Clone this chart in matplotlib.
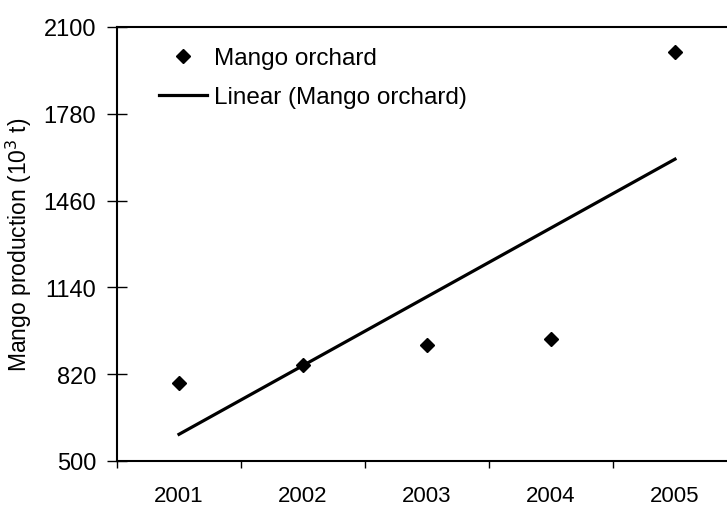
import numpy as np
import matplotlib
matplotlib.use("Agg")
import matplotlib.pyplot as plt

plt.rcParams['font.family'] = ['Liberation Sans', 'DejaVu Sans']

years = ["2001", "2002", "2003", "2004", "2005"]
production = [788, 854, 928, 950, 2008]
yticks = [500, 820, 1140, 1460, 1780, 2100]

fig = plt.figure(figsize=(7.27, 5.06), dpi=100)
ax = fig.add_axes([117/727, 1-462/506, 620/727, 434/506])

x = np.arange(len(years)) + 0.5
ax.plot(x, production, linestyle='none', marker='D', markersize=7,
        color='black', label='Mango orchard')
coef = np.polyfit(x, production, 1)
ax.plot(x, np.polyval(coef, x), color='black', linewidth=2.3,
        label='Linear (Mango orchard)')

ax.set_xlim(0, len(years))
ax.set_ylim(500, 2100)
ax.set_yticks(yticks)
ax.set_yticklabels([str(v) for v in yticks])
ax.set_xticks(np.arange(len(years) + 1))
ax.set_xticklabels([])
ax.set_xticks(x, minor=True)
ax.set_xticklabels(years, minor=True)
ax.tick_params(axis='x', which='major', direction='out', length=5, width=1)
ax.tick_params(axis='x', which='minor', length=0, pad=17.5, labelsize=16)
ax.tick_params(axis='y', direction='inout', length=15, width=1, pad=7.5, labelsize=17)

for s in ['left', 'top', 'bottom']:
    ax.spines[s].set_linewidth(1.5)
ax.spines['right'].set_visible(False)

ax.set_ylabel('Mango production (10$^3$ t)', fontsize=16.5)
ax.yaxis.set_label_coords(-0.134, 0.5)

leg = ax.legend(loc='upper left', bbox_to_anchor=(0.040, 0.993), frameon=False,
                fontsize=17.5, handlelength=1.98, handletextpad=0.3, labelspacing=0.7,
                borderaxespad=0.3)

fig.savefig('out.png', dpi=100)
